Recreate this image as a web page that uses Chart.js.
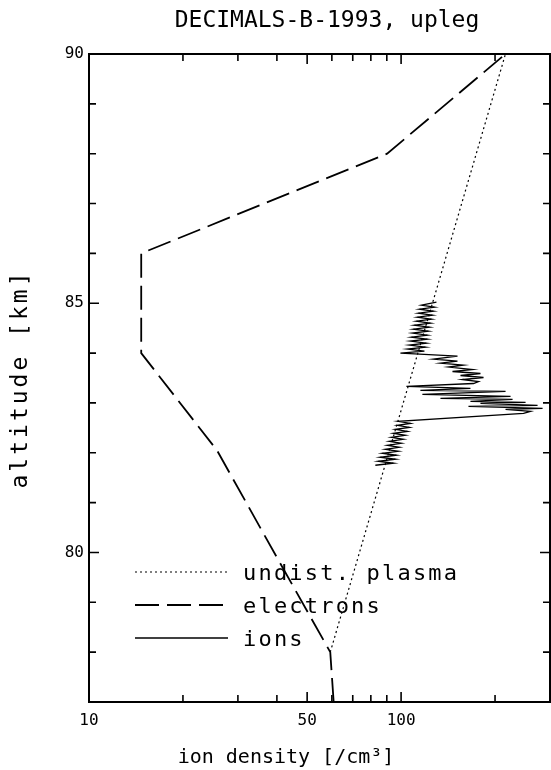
<!DOCTYPE html>
<html>
<head>
<meta charset="utf-8">
<script src="https://cdn.jsdelivr.net/npm/chart.js@4.4.0/dist/chart.umd.min.js"></script>
<style>
  html, body { margin: 0; padding: 0; background: #fff; }
</style>
</head>
<body>
<canvas id="profile" width="551" height="770"></canvas>
<script>
// undisturbed plasma (dotted)
const plasmaDensity = [59.3, 216];
const plasmaAltitude = [78.0, 90.0];

// electrons (dashed)
const electronDensity = [60.8, 59.3, 40.0, 25.7, 14.7, 14.7, 90.2, 216];
const electronAltitude = [77.0, 78.0, 79.9, 82.05, 84.0, 86.0, 88.0, 90.0];

// ions (solid)
const ionDensity = [
  129.8, 116.2, 127.9, 114.5, 126.9, 113.6, 126.0, 112.8, 125.1, 112.0,
  124.2, 110.3, 123.2, 109.5, 122.3, 108.7, 121.4, 107.9, 121.4, 107.1,
  120.5, 106.3, 119.7, 104.8, 118.8, 99.5,
  151.6, 126.9, 151.6, 133.7, 158.4, 141.8, 169.3, 146.1, 179.6, 155.0,
  183.7, 157.3, 177.0, 170.6, 104.0,
  166.8, 115.3, 216.1, 117.0, 224.2, 133.7, 227.6, 166.8, 250.5, 179.6,
  273.7, 164.4, 284.0, 216.1, 259.9, 246.8, 98.0,
  107.1, 97.3, 106.3, 95.9, 104.8, 94.5, 103.2, 93.1, 101.7, 91.7,
  100.2, 90.4, 98.7, 89.0, 98.0, 87.1, 96.6, 85.8, 95.9, 84.6, 94.5, 82.7
];
const ionAltitude = [
  85.02, 84.96, 84.92, 84.88, 84.84, 84.80, 84.76, 84.72, 84.68, 84.64,
  84.60, 84.56, 84.52, 84.48, 84.44, 84.40, 84.36, 84.32, 84.28, 84.24,
  84.20, 84.16, 84.12, 84.08, 84.04, 84.00,
  83.94, 83.88, 83.84, 83.80, 83.76, 83.72, 83.67, 83.63, 83.59, 83.55,
  83.51, 83.47, 83.43, 83.39, 83.33,
  83.29, 83.25, 83.23, 83.17, 83.13, 83.09, 83.07, 83.03, 83.01, 82.99,
  82.95, 82.93, 82.89, 82.87, 82.83, 82.79, 82.63,
  82.59, 82.55, 82.51, 82.47, 82.43, 82.39, 82.35, 82.31, 82.27, 82.23,
  82.19, 82.15, 82.11, 82.07, 82.03, 81.99, 81.95, 81.91, 81.87, 81.83, 81.79, 81.75
];

// axes
const xTicks = [10, 20, 30, 40, 50, 60, 70, 80, 90, 100, 200, 300];
const xLabels = [10, 50, 100];
const xMajor = [50, 100];
const yTicks = [77, 78, 79, 80, 81, 82, 83, 84, 85, 86, 87, 88, 89, 90];
const yLabels = [80, 85, 90];

const legendNames = ["undist. plasma", "electrons", "ions"];

const MONO = "'DejaVu Sans Mono', monospace";

function pts(xs, ys) {
  return xs.map((x, i) => ({ x: x, y: ys[i] }));
}

function spacedText(ctx, txt, x, y, size, spacing, align) {
  ctx.save();
  ctx.font = size + "px " + MONO;
  ctx.letterSpacing = spacing + "px";
  ctx.fillStyle = "#000";
  ctx.textBaseline = "middle";
  ctx.textAlign = align || "center";
  ctx.fillText(txt, x, y);
  ctx.restore();
}

const framePlugin = {
  id: "frame",
  afterDraw(chart) {
    const ctx = chart.ctx;
    const a = chart.chartArea;
    const xs = chart.scales.x;
    const ys = chart.scales.y;

    ctx.save();
    ctx.strokeStyle = "#000";
    ctx.lineWidth = 2;
    ctx.setLineDash([]);
    ctx.strokeRect(a.left, a.top, a.right - a.left, a.bottom - a.top);

    ctx.lineWidth = 1.6;
    ctx.beginPath();
    xTicks.forEach(v => {
      if (v <= 10 || v >= 300) return;
      const px = xs.getPixelForValue(v);
      const len = xMajor.includes(v) ? 10 : 7;
      ctx.moveTo(px, a.bottom); ctx.lineTo(px, a.bottom - len);
      ctx.moveTo(px, a.top); ctx.lineTo(px, a.top + len);
    });
    yTicks.forEach(v => {
      if (v <= 77 || v >= 90) return;
      const py = ys.getPixelForValue(v);
      const len = yLabels.includes(v) ? 10 : 7;
      ctx.moveTo(a.left, py); ctx.lineTo(a.left + len, py);
      ctx.moveTo(a.right, py); ctx.lineTo(a.right - len, py);
    });
    ctx.stroke();

    // legend
    const rows = [572, 605, 638];
    chart.data.datasets.forEach((ds, i) => {
      ctx.strokeStyle = "#000";
      ctx.lineWidth = ds.borderWidth;
      ctx.setLineDash(ds.borderDash || []);
      ctx.beginPath();
      ctx.moveTo(135, rows[i]);
      ctx.lineTo(228, rows[i]);
      ctx.stroke();
      ctx.setLineDash([]);
      spacedText(ctx, legendNames[i], 243, rows[i] + 2, 22, 2.2, "left");
    });
    ctx.restore();

    // titles
    spacedText(ctx, "DECIMALS-B-1993, upleg", 327, 21, 23, 0);
    spacedText(ctx, "ion density [/cm\u00b3]", 286, 758, 20, 0);
    ctx.save();
    ctx.translate(21, 379);
    ctx.rotate(-Math.PI / 2);
    spacedText(ctx, "altitude [km]", 0, 0, 23, 3);
    ctx.restore();
  }
};

new Chart(document.getElementById("profile"), {
  type: "scatter",
  data: {
    datasets: [
      {
        label: legendNames[0],
        data: pts(plasmaDensity, plasmaAltitude),
        showLine: true,
        borderColor: "#000",
        borderWidth: 1.2,
        borderDash: [2, 3],
        pointRadius: 0,
        tension: 0
      },
      {
        label: legendNames[1],
        data: pts(electronDensity, electronAltitude),
        showLine: true,
        borderColor: "#000",
        borderWidth: 1.8,
        borderDash: [24, 8],
        pointRadius: 0,
        tension: 0
      },
      {
        label: legendNames[2],
        data: pts(ionDensity, ionAltitude),
        showLine: true,
        borderColor: "#000",
        borderWidth: 1.3,
        pointRadius: 0,
        tension: 0
      }
    ]
  },
  options: {
    responsive: false,
    animation: false,
    layout: { padding: { top: 54, right: 1, bottom: 0, left: 0 } },
    plugins: {
      legend: { display: false },
      tooltip: { enabled: false },
      title: { display: false }
    },
    scales: {
      x: {
        type: "logarithmic",
        min: 10,
        max: 300,
        grid: { display: false, drawTicks: false },
        border: { display: false },
        afterBuildTicks: s => { s.ticks = xTicks.map(v => ({ value: v })); },
        afterFit: s => { s.height = 68; s.paddingLeft = 0; s.paddingRight = 0; },
        ticks: {
          autoSkip: false,
          maxRotation: 0,
          padding: 9,
          color: "#000",
          font: { family: MONO, size: 16 },
          callback: v => (xLabels.includes(v) ? String(v) : "")
        }
      },
      y: {
        min: 77,
        max: 90,
        grid: { display: false, drawTicks: false },
        border: { display: false },
        afterBuildTicks: s => { s.ticks = yTicks.map(v => ({ value: v })); },
        afterFit: s => { s.width = 89; },
        ticks: {
          autoSkip: false,
          padding: 5,
          color: "#000",
          font: { family: MONO, size: 16 },
          callback: v => (yLabels.includes(v) ? String(v) : "")
        }
      }
    }
  },
  plugins: [framePlugin]
});
</script>
</body>
</html>
